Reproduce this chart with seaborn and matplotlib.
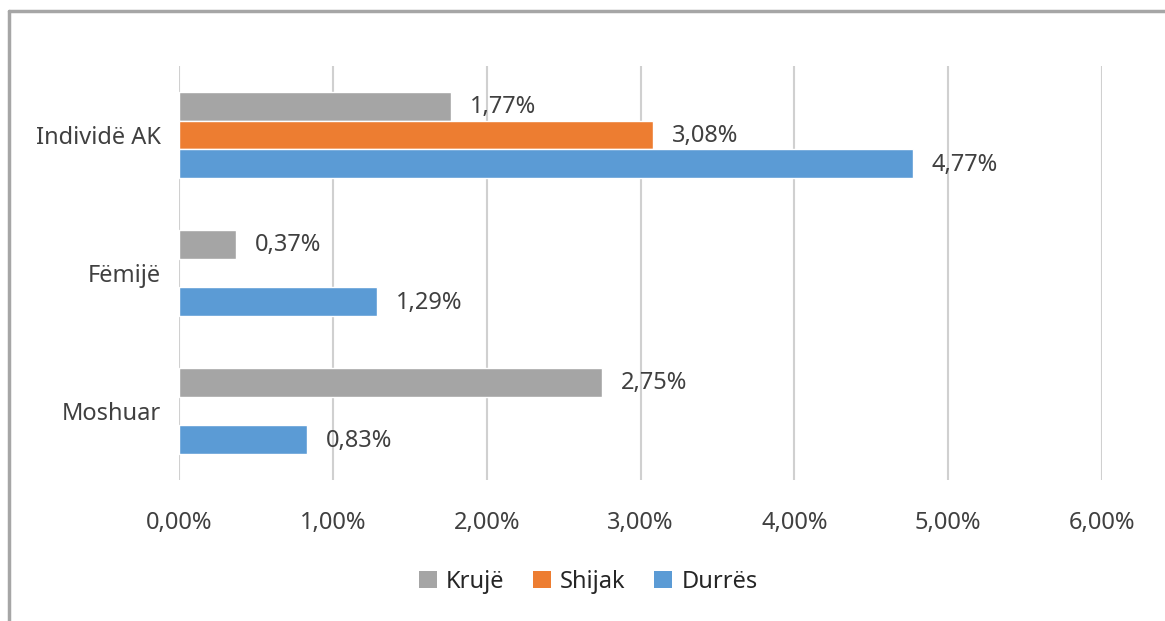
import pandas as pd
import numpy as np
import matplotlib.pyplot as plt
import seaborn as sns
from matplotlib.lines import Line2D
from matplotlib.patches import Patch

categories = ["Individë AK", "Fëmijë", "Moshuar"]
series = ["Krujë", "Shijak", "Durrës"]
kruje = [1.77, 0.37, 2.75]
shijak = [3.08, np.nan, np.nan]
durres = [4.77, 1.29, 0.83]
xticks = [0, 1, 2, 3, 4, 5, 6]

colors = {"Krujë": "#A5A5A5", "Shijak": "#ED7D31", "Durrës": "#5B9BD5"}

rows = []
for vals, name in zip([kruje, shijak, durres], series):
    for cat, v in zip(categories, vals):
        rows.append({"cat": cat, "series": name, "value": v})
df = pd.DataFrame(rows)

sns.set_style("white")
plt.rcParams["font.family"] = ["Noto Sans", "DejaVu Sans"]

FS = 17

fig = plt.figure(figsize=(11.65, 6.21), dpi=100)
ax = fig.add_axes([179 / 1165, 1 - 480 / 621, (1102 - 179) / 1165, (480 - 66) / 621])

sns.barplot(data=df.dropna(), x="value", y="cat", hue="series", order=categories,
            hue_order=series, palette=colors, orient="h", width=0.63,
            errorbar=None, ax=ax, legend=False, saturation=1)

# data labels
for container, name in zip(ax.containers, series):
    for patch in container:
        w = patch.get_width()
        if np.isnan(w) or w == 0:
            continue
        ax.annotate(f"{w:.2f}%".replace(".", ","),
                    (w, patch.get_y() + patch.get_height() / 2),
                    xytext=(13.5, -1), textcoords="offset points",
                    va="center", ha="left", fontsize=FS, color="#404040")

ax.set_xlim(0, 6)
ax.set_ylim(2.5, -0.5)
ax.set_xticks(xticks)
ax.set_xticklabels([f"{t:.2f}%".replace(".", ",") for t in xticks])
ax.grid(axis="x", color="#D0D0D0", linewidth=1.5)
ax.grid(axis="y", visible=False)
ax.set_axisbelow(True)
for s in ax.spines.values():
    s.set_visible(False)
ax.tick_params(axis="x", length=0, pad=22, labelsize=FS, labelcolor="#404040")
ax.tick_params(axis="y", length=0, pad=13, labelsize=FS, labelcolor="#404040")
ax.set_xlabel("")
ax.set_ylabel("")

# legend
handles = [Patch(facecolor=colors[s], edgecolor="none") for s in series]
fig.legend(handles, series, loc="center", bbox_to_anchor=(0.505, 1 - 582 / 621),
           ncol=3, frameon=False, fontsize=FS, handlelength=0.75, handleheight=0.75,
           columnspacing=1.2, handletextpad=0.4, labelcolor="#262626")

# chart frame (left and top edges)
fig.add_artist(Line2D([9 / 1165, 9 / 1165], [0, 1 - 11 / 621], transform=fig.transFigure,
                      color="#A6A6A6", linewidth=2.5))
fig.add_artist(Line2D([9 / 1165, 1], [1 - 11 / 621, 1 - 11 / 621], transform=fig.transFigure,
                      color="#A6A6A6", linewidth=2.5))

fig.savefig("out.png", dpi=100)
